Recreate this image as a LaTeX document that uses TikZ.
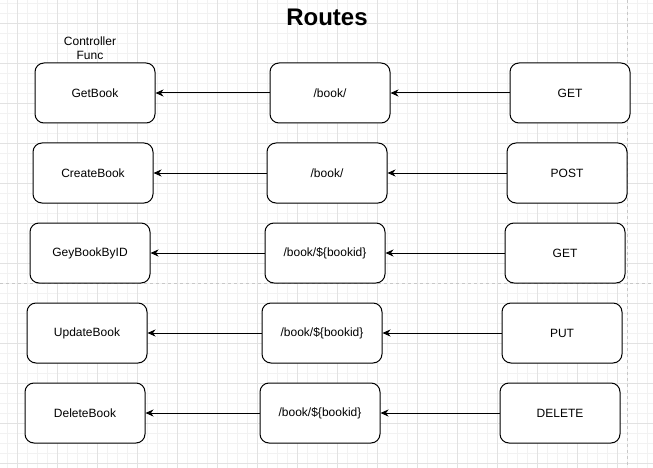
\documentclass[tikz,border=0pt]{standalone}
\usepackage{fontspec}
\setmainfont{Liberation Sans}
\usetikzlibrary{arrows.meta}
\definecolor{minorgrid}{HTML}{F2F2F2}
\definecolor{majorgrid}{HTML}{E2E2E2}
\definecolor{pagebreak}{HTML}{C8C8C8}
\begin{document}
\begin{tikzpicture}[x=1pt,y=-1pt,
  box/.style={draw=black,line width=1pt,rounded corners=9pt,fill=white,
    minimum width=120pt,minimum height=60pt,inner sep=0pt,
    font=\fontsize{12pt}{14pt}\selectfont},
  conn/.style={draw=black,line width=1pt,-{Stealth[length=8pt,width=7pt,inset=2.5pt]}},
  lbl/.style={font=\fontsize{12pt}{14.5pt}\selectfont,align=center,inner sep=0pt}]
\useasboundingbox (0,0) rectangle (653,468);
\fill[white] (0,0) rectangle (653,468);
% grid
\foreach \x in {7,17,...,647} \draw[minorgrid,line width=0.8pt] (\x,0) -- (\x,468);
\foreach \y in {3,13,...,463} \draw[minorgrid,line width=0.8pt] (0,\y) -- (653,\y);
\foreach \x in {17,57,...,617} \draw[majorgrid,line width=0.8pt] (\x,0) -- (\x,468);
\foreach \y in {23,63,...,463} \draw[majorgrid,line width=0.8pt] (0,\y) -- (653,\y);
% page breaks
\draw[pagebreak,line width=0.8pt,dash pattern=on 3pt off 3pt] (627.5,0) -- (627.5,468);
\draw[pagebreak,line width=0.8pt,dash pattern=on 3pt off 3pt] (0,283) -- (653,283);
% title
\node[font=\fontsize{24pt}{28pt}\selectfont\bfseries,inner sep=0pt] (title) at (327,17) {Routes};
\node[lbl] (ctrl) at (90,48) {Controller\\Func};
% rows
\node[box] (f1) at (95,93) {GetBook};
\node[box] (r1) at (330,93) {/book/};
\node[box] (m1) at (570,93) {GET};
\node[box] (f2) at (93,173) {CreateBook};
\node[box] (r2) at (327,173) {/book/};
\node[box] (m2) at (567,173) {POST};
\node[box] (f3) at (90,253) {GeyBookByID};
\node[box] (r3) at (325,253) {/book/\$\{bookid\}};
\node[box] (m3) at (565,253) {GET};
\node[box] (f4) at (87,333) {UpdateBook};
\node[box] (r4) at (322,333) {/book/\$\{bookid\}};
\node[box] (m4) at (562,333) {PUT};
\node[box] (f5) at (85,413) {DeleteBook};
\node[box] (r5) at (320,413) {/book/\$\{bookid\}};
\node[box] (m5) at (560,413) {DELETE};
\foreach \i in {1,...,5} {
  \draw[conn] (m\i.west) -- (r\i.east);
  \draw[conn] (r\i.west) -- (f\i.east);
}
\end{tikzpicture}
\end{document}
